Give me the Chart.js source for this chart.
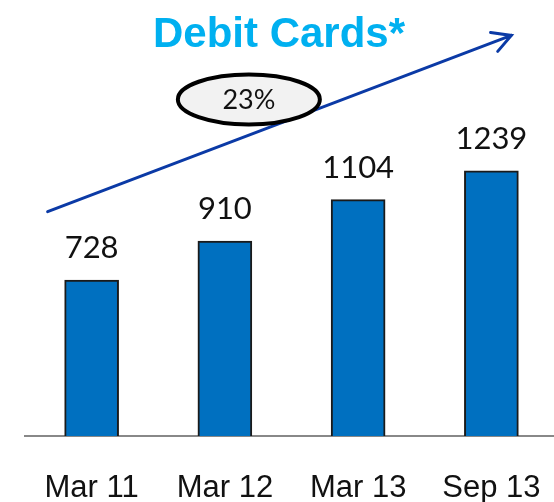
<!DOCTYPE html>
<html>
<head>
<meta charset="utf-8">
<script src="https://cdn.jsdelivr.net/npm/chart.js@4.4.1/dist/chart.umd.min.js"></script>
<style>
  html, body { margin: 0; padding: 0; background: #fff; overflow: hidden; }
  canvas { display: block; }
</style>
</head>
<body>
<canvas id="debitChart" width="558" height="502"></canvas>
<script>
const periods = ['Mar 11', 'Mar 12', 'Mar 13', 'Sep 13'];
const debitCards = [728, 910, 1104, 1239];
const growthText = '23%';
const chartTitle = 'Debit Cards*';

// trend arrow + bubble, placed in axis units (category index, value)
const trendFrom = [-0.33, 1048];
const trendTo = [3.15, 1871];
const bubbleAt = [1.18, 1572];

const ctx = document.getElementById('debitChart');

// numbers above each bar
const valueLabels = {
    id: 'valueLabels',
    afterDatasetsDraw(chart) {
        const c = chart.ctx;
        const meta = chart.getDatasetMeta(0);
        c.save();
        c.font = '31px Lato';
        c.fillStyle = '#111';
        c.textAlign = 'center';
        c.textBaseline = 'alphabetic';
        meta.data.forEach((bar, i) => {
            c.fillText(String(debitCards[i]), bar.x, bar.y - 22);
        });
        c.restore();
    }
};

// growth arrow and the oval with the percentage
const trendArrow = {
    id: 'trendArrow',
    afterDraw(chart) {
        const x = chart.scales.x, y = chart.scales.y;
        const c = chart.ctx;
        const x0 = x.getPixelForValue(trendFrom[0]), y0 = y.getPixelForValue(trendFrom[1]);
        const x1 = x.getPixelForValue(trendTo[0]), y1 = y.getPixelForValue(trendTo[1]);
        c.save();
        c.strokeStyle = '#0b3aa6';
        c.lineWidth = 3;
        c.lineCap = 'round';
        c.beginPath();
        c.moveTo(x0, y0);
        c.lineTo(x1, y1);
        const back = Math.atan2(y0 - y1, x0 - x1);
        const wing = 21, spread = 0.5;
        c.moveTo(x1 + wing * Math.cos(back + spread), y1 + wing * Math.sin(back + spread));
        c.lineTo(x1, y1);
        c.lineTo(x1 + wing * Math.cos(back - spread), y1 + wing * Math.sin(back - spread));
        c.stroke();

        const bx = x.getPixelForValue(bubbleAt[0]), by = y.getPixelForValue(bubbleAt[1]);
        c.beginPath();
        c.ellipse(bx, by, 71, 25, 0, 0, Math.PI * 2);
        c.fillStyle = '#f2f2f2';
        c.fill();
        c.lineWidth = 4;
        c.strokeStyle = '#000';
        c.stroke();
        c.font = '27px Lato';
        c.fillStyle = '#111';
        c.textAlign = 'center';
        c.textBaseline = 'middle';
        c.fillText(growthText, bx, by + 1);
        c.restore();
    }
};

const debitChart = new Chart(ctx, {
    type: 'bar',
    data: {
        labels: periods,
        datasets: [{
            data: debitCards,
            backgroundColor: '#0070c0',
            borderColor: '#1a1a1a',
            borderWidth: 2,
            barThickness: 54
        }]
    },
    plugins: [valueLabels, trendArrow],
    options: {
        responsive: false,
        animation: false,
        layout: { padding: 0 },
        plugins: {
            legend: { display: false },
            tooltip: { enabled: false },
            title: {
                display: true,
                text: chartTitle,
                color: '#00b0f0',
                font: { family: 'Liberation Sans', size: 42, weight: 'bold' },
                padding: { top: 10, bottom: 2 }
            }
        },
        scales: {
            x: {
                grid: { display: false },
                border: { color: '#888', width: 2 },
                ticks: {
                    color: '#111',
                    font: { family: 'Liberation Sans', size: 31 },
                    padding: 26,
                    maxRotation: 0,
                    autoSkip: false
                },
                afterFit(scale) {
                    scale.paddingLeft = 0;
                    scale.paddingRight = 0;
                    scale.height = 66;
                }
            },
            y: {
                display: true,
                min: 0,
                max: 1745,
                grid: { display: false },
                border: { display: false },
                ticks: { display: false },
                afterFit(scale) {
                    scale.width = 25;
                }
            }
        }
    }
});
</script>
</body>
</html>
